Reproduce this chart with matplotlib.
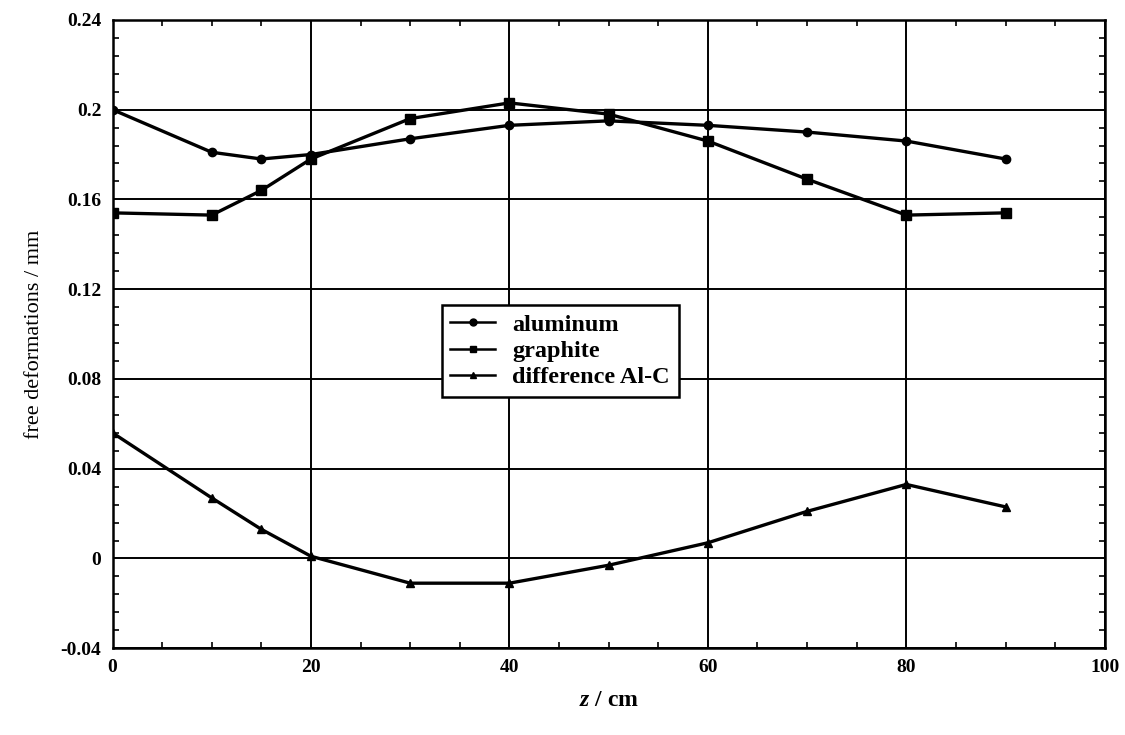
"""Free deformations along z: aluminum, graphite and their difference."""

import matplotlib
matplotlib.use("Agg")
import matplotlib.pyplot as plt
from matplotlib.ticker import AutoMinorLocator

plt.rcParams.update({
    "font.family": ["Liberation Serif", "DejaVu Serif"],
    "font.size": 14,
    "mathtext.fontset": "custom",
    "mathtext.rm": "Liberation Serif",
    "mathtext.it": "Liberation Serif:italic",
    "mathtext.bf": "Liberation Serif:bold",
    "mathtext.bfit": "Liberation Serif:italic:bold",
    "axes.linewidth": 1.8,
    "xtick.direction": "in", "ytick.direction": "in",
})

z_cm = [0, 10, 15, 20, 30, 40, 50, 60, 70, 80, 90]
aluminum = [0.200, 0.181, 0.178, 0.180, 0.187, 0.193, 0.195, 0.193, 0.190, 0.186, 0.178]
graphite = [0.154, 0.153, 0.164, 0.178, 0.196, 0.203, 0.198, 0.186, 0.169, 0.153, 0.154]
diff_al_c = [0.056, 0.027, 0.013, 0.001, -0.011, -0.011, -0.003, 0.007, 0.021, 0.033, 0.023]

x_ticks = [0, 20, 40, 60, 80, 100]
y_ticks = [-0.04, 0, 0.04, 0.08, 0.12, 0.16, 0.2, 0.24]
y_labels = ["-0.04", "0", "0.04", "0.08", "0.12", "0.16", "0.2", "0.24"]


def main():
    fig = plt.figure(figsize=(11.25, 7.35), dpi=100)
    ax = fig.add_axes([0.100, 0.118, 0.882, 0.855])

    kw = dict(color="black", lw=2.4, zorder=3)
    ax.plot(z_cm, aluminum, "-o", ms=6, label="aluminum", **kw)
    ax.plot(z_cm, graphite, "-s", ms=6.5, label="graphite", **kw)
    ax.plot(z_cm, diff_al_c, "-^", ms=6, label="difference Al-C", **kw)

    ax.set_xlim(0, 100)
    ax.set_ylim(-0.04, 0.24)
    ax.set_xticks(x_ticks)
    ax.set_yticks(y_ticks)
    ax.set_yticklabels(y_labels)
    ax.xaxis.set_minor_locator(AutoMinorLocator(4))
    ax.yaxis.set_minor_locator(AutoMinorLocator(5))
    ax.tick_params(which="both", top=True, right=True, labelsize=14, pad=8)
    ax.tick_params(which="major", length=0)
    ax.tick_params(which="minor", length=4, width=1.2)
    for lab in ax.get_xticklabels() + ax.get_yticklabels():
        lab.set_fontweight("bold")

    ax.grid(True, which="major", color="black", lw=1.4)
    ax.set_axisbelow(True)

    ax.set_xlabel(r"$\mathbfit{z}$ / cm", fontsize=17, fontweight="bold", labelpad=10)
    ax.set_ylabel("free deformations / mm", fontsize=16, labelpad=12)

    leg = ax.legend(loc="upper left", bbox_to_anchor=(0.332, 0.546),
                    borderaxespad=0, frameon=True, fancybox=False,
                    framealpha=1, edgecolor="black", borderpad=0.35,
                    handlelength=1.85, handletextpad=0.7,
                    labelspacing=0.18, prop={"size": 17.5, "weight": "bold"})
    leg.get_frame().set_linewidth(1.8)
    for h in leg.get_lines():
        h.set_linewidth(1.8)
        h.set_markersize(5)

    fig.savefig("out.png", dpi=100)


if __name__ == "__main__":
    main()
